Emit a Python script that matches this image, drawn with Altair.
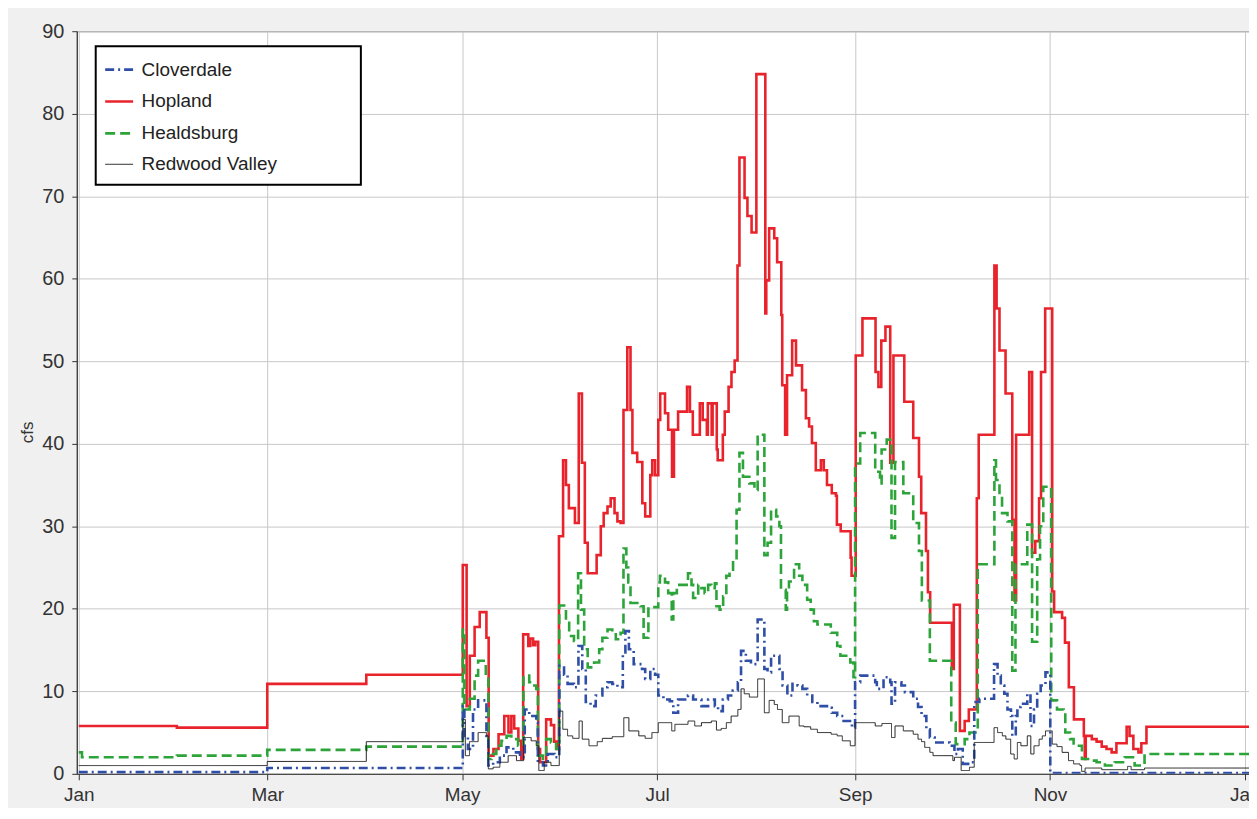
import altair as alt
import pandas as pd

BASE = pd.Timestamp("2013-01-01")

series_names = ["Cloverdale", "Hopland", "Healdsburg", "Redwood Valley"]
series_colors = ["#2f4fa6", "#e8232b", "#2ca43a", "#222222"]
series_dash = [[9, 4, 2, 4], [1, 0], [10, 5], [1, 0]]
series_width = [2.6, 2.6, 2.6, 1.0]

tick_months = [1, 3, 5, 7, 9, 11]

# days since Jan 1 (step starts) and flow values (cfs)
hop_day = [0, 30.7, 59, 90, 120.2, 121.4, 122.4, 123.9, 125.5, 127.6, 128.3, 129.8, 131.4, 133.2,
           134.5, 135.4, 136.3, 137.6, 138.5, 139.1, 140.7, 141.3, 142.2, 142.9, 143.8, 144.4,
           146.3, 147.8, 148.8, 149.7, 150.3, 151.6, 152.5, 153.4, 155.3, 156.5, 157.5, 158.4,
           159.3, 162.1, 163.4, 164.3, 165.5, 166.5, 167.7, 168.6, 169.6, 170.5, 171.7, 172.7,
           173.3, 174.8, 176.4, 177.3, 178.9, 179.5, 180.4, 181.4, 182.0, 183.5, 184.5, 185.7,
           186.3, 187.6, 190.4, 191.3, 192.2, 194.4, 195.3, 196.6, 196.9, 198.1, 198.4, 199.7,
           200.0, 201.6, 202.2, 203.4, 204.3, 205.3, 206.2, 206.8, 208.4, 209.3, 210.6, 212.1,
           214.9, 215.2, 216.1, 217.7, 218.6, 219.9, 220.2, 221.1, 221.7, 223.3, 224.5, 226.4,
           227.6, 228.6, 229.5, 230.7, 232.3, 233.2, 234.2, 235.7, 237.0, 237.3, 238.5, 241.6,
           241.9, 243.2, 245.3, 249.4, 250.3, 251.2, 252.5, 254.0, 255.0, 258.4, 261.2, 263.0,
           263.7, 265.2, 265.8, 266.5, 273.3, 273.9, 275.8, 277.3, 278.6, 281.1, 281.7, 286.6,
           287.3, 288.2, 290.1, 292.2, 292.9, 293.4, 297.5, 298.4, 299.4, 300.6, 301.2, 302.5,
           304.7, 305.3, 307.8, 308.7, 309.9, 311.5, 314.6, 314.9, 315.2, 317.1, 318.6, 320.2,
           321.7, 323.3, 324.8, 328.0, 328.9, 330.1, 331.7, 332.6, 334.2, 367]
hop_val = [5.8, 5.6, 10.9, 12.0, 25.3, 8.2, 14.3, 17.8, 19.6, 16.5, 2.2, 3.0, 4.8, 7.0,
           5.0, 7.0, 5.5, 4.0, 1.8, 16.9, 15.5, 16.4, 15.6, 16.0, 3.0, 1.4,
           6.6, 5.9, 3.9, 3.0, 28.8, 38.0, 35.0, 32.2, 30.4, 46.1, 37.7, 28.0,
           24.3, 26.5, 30.0, 31.6, 32.4, 33.4, 31.6, 30.6, 30.4, 44.1, 51.7, 44.1,
           38.9, 37.8, 32.8, 31.2, 36.2, 38.0, 36.2, 42.9, 46.1, 43.7, 41.7, 36.0,
           41.7, 43.9, 46.9, 43.9, 41.1, 44.9, 42.9, 41.1, 44.9, 41.1, 44.9, 39.3,
           38.0, 41.1, 43.9, 46.9, 48.7, 50.1, 61.6, 74.7, 69.8, 67.6, 65.6, 84.8,
           55.8, 59.8, 66.1, 64.9, 62.0, 55.6, 47.1, 41.1, 48.3, 52.5, 49.5, 46.5,
           43.1, 42.1, 40.1, 36.8, 38.0, 36.8, 35.0, 34.0, 33.7, 30.2, 29.4, 26.2,
           24.0, 50.7, 55.2, 48.7, 46.9, 52.5, 54.2, 37.7, 50.7, 45.1, 40.7, 36.0,
           31.6, 27.0, 22.0, 18.3, 12.7, 20.5, 5.2, 6.4, 7.8, 33.4, 41.1, 61.6,
           56.4, 51.3, 46.1, 30.8, 21.0, 41.1, 48.7, 26.8, 28.2, 33.4, 48.7, 56.4,
           22.1, 19.6, 18.9, 15.9, 10.5, 6.6, 4.6, 1.8, 4.6, 4.2, 3.9, 3.3,
           3.0, 2.6, 3.7, 5.7, 4.6, 3.0, 2.6, 3.7, 5.7, 5.7]

hea_day = [0, 1, 30.7, 59, 90, 120.2, 120.7, 122.4, 123.9, 125.0, 127.4, 128.2, 129.2, 130.7,
           132.3, 133.9, 135.4, 137.5, 139.2, 141.0, 142.1, 143.2, 143.7, 145.3, 146.3, 147.8,
           149.4, 150.4, 152.5, 153.5, 155.0, 156.3, 157.2, 158.2, 159.3, 161.3, 162.9, 163.9,
           165.5, 167.0, 168.1, 169.6, 170.5, 171.4, 172.0, 172.7, 175.8, 176.8, 178.3, 181.4,
           181.9, 183.5, 184.5, 185.6, 186.1, 187.2, 190.7, 191.8, 192.3, 193.9, 194.9, 195.9,
           197.0, 198.0, 199.1, 199.6, 200.6, 201.7, 202.7, 203.7, 204.8, 205.9, 206.8, 207.9,
           209.9, 211.5, 212.5, 214.6, 215.6, 216.7, 218.3, 219.3, 219.8, 221.3, 221.7, 222.3,
           223.9, 225.5, 226.5, 228.0, 229.1, 230.1, 231.2, 235.4, 237.4, 238.4, 241.5, 242.5,
           243.0, 244.6, 249.3, 250.8, 251.3, 252.9, 254.4, 255.5, 258.1, 261.2, 263.0, 263.9,
           266.4, 273.1, 274.5, 277.3, 278.8, 281.4, 286.6, 287.1, 288.2, 289.0, 290.7, 292.2,
           293.2, 296.9, 298.4, 300.0, 300.9, 301.9, 304.4, 306.2, 308.3, 308.8, 310.3, 311.4,
           314.0, 316.6, 318.6, 321.2, 324.3, 327.4, 330.5, 333.6, 367]
hea_val = [2.6, 2.0, 2.2, 2.9, 3.3, 17.5, 7.8, 9.1, 11.9, 13.7, 11.9, 1.8, 2.4, 3.4,
           4.0, 4.6, 4.2, 3.4, 11.9, 11.1, 10.7, 10.3, 2.2, 1.8, 4.2, 3.8,
           3.0, 20.4, 18.3, 16.7, 16.1, 24.3, 19.9, 15.1, 12.9, 13.5, 15.1, 16.5,
           17.5, 17.1, 16.3, 17.1, 27.3, 25.0, 23.2, 20.7, 20.3, 16.5, 20.2, 23.2,
           24.0, 23.2, 21.9, 18.7, 21.9, 22.9, 24.3, 22.9, 21.3, 22.9, 22.5, 21.9,
           22.9, 22.5, 23.1, 20.3, 19.9, 21.5, 24.0, 24.5, 25.8, 32.0, 38.9, 36.0,
           35.2, 34.4, 41.1, 26.5, 28.0, 32.0, 31.2, 30.0, 22.3, 19.9, 22.3, 23.3,
           25.4, 24.0, 22.9, 21.1, 19.9, 18.5, 18.1, 17.1, 15.5, 14.3, 13.5, 11.7,
           37.6, 41.3, 36.6, 35.2, 39.3, 40.5, 28.6, 37.8, 34.0, 30.4, 27.0, 21.0,
           13.7, 6.2, 3.6, 4.2, 5.0, 25.4, 38.0, 35.6, 33.8, 31.6, 30.6, 12.5,
           25.4, 30.2, 16.0, 26.0, 30.0, 34.8, 8.9, 7.8, 7.4, 5.0, 4.2, 3.4,
           1.8, 1.6, 1.4, 1.0, 1.4, 2.0, 1.0, 2.4, 2.4]

clo_day = [0, 59, 120.2, 120.7, 121.8, 123.4, 125.0, 127.6, 128.2, 129.7, 131.8, 133.9, 136.0,
           138.1, 139.6, 141.0, 143.2, 143.7, 145.3, 146.8, 148.9, 150.4, 151.9, 153.0, 155.0,
           156.4, 157.6, 158.7, 160.2, 161.8, 163.9, 165.5, 167.0, 168.6, 170.3, 171.1, 172.2,
           173.7, 176.3, 177.3, 178.9, 180.4, 181.4, 183.0, 185.0, 186.1, 187.6, 190.7, 192.3,
           194.9, 197.0, 199.1, 200.1, 201.6, 203.2, 204.7, 206.3, 207.3, 208.8, 210.4, 212.5,
           214.6, 215.6, 216.7, 219.3, 220.3, 221.8, 223.4, 225.0, 226.5, 228.0, 229.6, 231.2,
           235.0, 235.7, 237.4, 239.4, 242.0, 243.0, 244.6, 249.3, 249.8, 251.9, 254.0, 254.4,
           255.5, 257.5, 258.6, 261.2, 262.7, 263.8, 265.3, 266.4, 267.9, 272.6, 274.1, 275.2,
           276.7, 278.8, 280.3, 281.9, 286.5, 287.6, 288.6, 289.7, 290.7, 291.8, 292.2, 293.3,
           293.8, 294.8, 296.9, 297.9, 299.0, 300.0, 301.1, 302.6, 304.1, 367]
clo_val = [0.2, 0.7, 8.2, 4.6, 3.0, 7.8, 8.9, 4.6, 1.0, 1.4, 2.2, 3.2, 2.6,
           2.0, 7.8, 7.0, 6.2, 1.4, 1.0, 2.4, 2.0, 13.1, 12.0, 10.9, 10.5,
           15.5, 12.7, 8.7, 8.2, 9.5, 10.5, 11.1, 10.9, 10.5, 14.7, 17.3, 15.1,
           13.3, 12.7, 11.5, 12.7, 12.0, 9.5, 9.0, 8.8, 7.4, 9.0, 9.5, 9.0,
           8.2, 9.0, 8.2, 7.6, 9.0, 9.5, 10.1, 11.1, 14.9, 13.7, 13.3, 18.7,
           12.7, 12.3, 14.3, 12.7, 10.7, 9.5, 10.9, 10.7, 10.3, 9.5, 8.7, 8.2,
           8.0, 7.4, 7.0, 6.4, 5.6, 11.1, 11.9, 11.1, 10.3, 11.7, 11.1, 8.5,
           11.1, 10.7, 9.9, 9.1, 8.1, 7.0, 5.4, 4.4, 3.8, 3.4, 2.4, 3.0,
           1.2, 1.4, 8.7, 9.1, 13.3, 11.9, 10.7, 9.7, 7.8, 7.0, 4.6, 7.0,
           8.1, 8.5, 9.7, 5.8, 7.8, 9.7, 10.7, 12.3, 0.1, 0.1]

red_day = [0, 59, 90, 120.2, 121.0, 122.3, 125.0, 127.6, 128.2, 129.7, 131.8, 134.4, 137.0,
           139.2, 141.6, 143.2, 144.0, 145.7, 147.8, 150.4, 151.5, 153.0, 154.6, 156.6, 157.6,
           159.7, 162.3, 163.9, 167.0, 170.6, 172.2, 175.3, 177.3, 179.4, 181.4, 185.6, 186.6,
           190.7, 192.8, 194.9, 198.0, 199.6, 201.1, 202.7, 204.2, 206.3, 207.3, 208.3, 209.9,
           212.5, 214.6, 216.1, 217.7, 218.7, 220.2, 222.3, 225.5, 227.0, 229.1, 231.2, 235.5,
           237.4, 239.0, 241.5, 243.0, 249.3, 251.4, 254.4, 255.5, 258.1, 261.2, 262.7, 263.8,
           264.8, 266.4, 267.4, 273.6, 274.1, 276.2, 278.8, 280.3, 286.5, 287.6, 289.1, 290.2,
           291.7, 292.8, 293.8, 294.9, 296.9, 298.0, 299.0, 300.6, 301.6, 302.6, 304.7, 306.2,
           307.8, 309.8, 311.4, 313.4, 313.9, 315.0, 320.2, 328.3, 329.4, 333.6, 367]
red_val = [1.0, 1.5, 3.9, 6.6, 2.2, 3.9, 5.0, 4.6, 0.6, 0.8, 1.4, 2.2, 1.6,
           4.4, 4.0, 3.4, 0.4, 1.4, 1.0, 7.6, 5.4, 4.6, 4.3, 6.4, 4.2,
           3.4, 3.9, 4.3, 4.5, 6.8, 5.2, 4.6, 4.3, 5.0, 6.2, 5.2, 6.0,
           6.4, 5.8, 6.2, 6.4, 5.3, 5.5, 6.2, 7.0, 7.8, 10.3, 9.7, 9.3,
           11.5, 7.4, 8.9, 8.4, 7.8, 6.2, 7.0, 5.8, 5.7, 5.4, 5.0, 4.8,
           4.6, 4.0, 3.4, 6.2, 5.8, 6.1, 4.4, 5.8, 5.2, 4.8, 4.2, 3.9,
           3.2, 2.6, 2.2, 1.6, 2.0, 0.4, 0.8, 3.8, 5.6, 5.0, 4.6, 4.2,
           2.4, 1.8, 3.8, 3.4, 4.6, 2.4, 3.4, 4.2, 4.6, 5.2, 3.6, 3.3,
           2.6, 1.6, 1.2, 1.0, 0.3, 0.7, 0.5, 0.9, 0.5, 0.7, 0.7]

frames = []
for name, days, vals in [("Hopland", hop_day, hop_val), ("Healdsburg", hea_day, hea_val),
                         ("Cloverdale", clo_day, clo_val), ("Redwood Valley", red_day, red_val)]:
    frames.append(pd.DataFrame({
        "date": BASE + pd.to_timedelta(days, unit="D"),
        "cfs": vals,
        "series": name,
    }))
df = pd.concat(frames, ignore_index=True)

x_start = (BASE - pd.Timedelta(hours=15)).strftime("%Y-%m-%dT%H:%M:%S")
x_end = (BASE + pd.Timedelta(days=366.3)).strftime("%Y-%m-%dT%H:%M:%S")
tick_vals = [alt.DateTime(year=2013, month=m, date=1) for m in tick_months] + \
            [alt.DateTime(year=2014, month=1, date=1)]

legend_kw = dict(title=None, orient="none", legendX=19, legendY=15,
                 symbolType="stroke", symbolSize=784, labelLimit=400)

x_enc = alt.X("date:T", scale=alt.Scale(domain=[x_start, x_end], nice=False),
              axis=alt.Axis(values=tick_vals, format="%b", title=None, grid=True,
                            tickSize=6, labelPadding=6, labelFlush=False, labelFontSize=19))
y_enc = alt.Y("cfs:Q", scale=alt.Scale(domain=[0, 90], nice=False),
              axis=alt.Axis(values=list(range(0, 91, 10)), title="cfs", grid=True,
                            tickSize=5, labelPadding=8, titleAngle=-90,
                            titleX=-49, titleY=402, titleAlign="center",
                            titleBaseline="middle"))
color_enc = alt.Color("series:N", scale=alt.Scale(domain=series_names, range=series_colors),
                      legend=alt.Legend(**legend_kw))
dash_enc = alt.StrokeDash("series:N", scale=alt.Scale(domain=series_names, range=series_dash),
                          legend=alt.Legend(**legend_kw))
width_enc = alt.StrokeWidth("series:N",
                            scale=alt.Scale(type="ordinal", domain=series_names, range=series_width),
                            legend=alt.Legend(**legend_kw))

# white legend frame (drawn under the legend entries)
frame = alt.Chart(pd.DataFrame({"k": [0]})).mark_rect(
    fill="white", stroke="black", strokeWidth=2
).encode(x=alt.value(19), x2=alt.value(285), y=alt.value(15), y2=alt.value(154))

layers = []
for name in ["Hopland", "Healdsburg", "Cloverdale", "Redwood Valley"]:
    layers.append(
        alt.Chart(df).transform_filter(alt.datum.series == name)
        .mark_line(interpolate="step-after", clip=True)
        .encode(x=x_enc, y=y_enc, color=color_enc, strokeDash=dash_enc, strokeWidth=width_enc)
    )
layers.append(frame)

chart = alt.layer(*layers).properties(
    width=1176, height=745,
    autosize=alt.AutoSizeParams(type="none"),
    padding={"left": 69, "top": 22, "right": 0, "bottom": 33},
    background="#f0f0f0",
).configure_view(
    fill="white", stroke="#555555", strokeWidth=1
).configure_axis(
    labelFont="Liberation Sans", labelFontSize=20, labelColor="#333333",
    titleFont="Liberation Sans", titleFontSize=17, titleColor="#333333", titleFontWeight="normal",
    domainColor="#333333", tickColor="#333333", gridColor="#c8c8c8", gridWidth=1,
).configure_legend(
    padding=8, labelFont="Liberation Sans", labelFontSize=19, labelColor="#222222",
    labelOffset=7, rowPadding=6,
)

chart.save("out.html", embed_options={"renderer": "svg", "actions": False})
